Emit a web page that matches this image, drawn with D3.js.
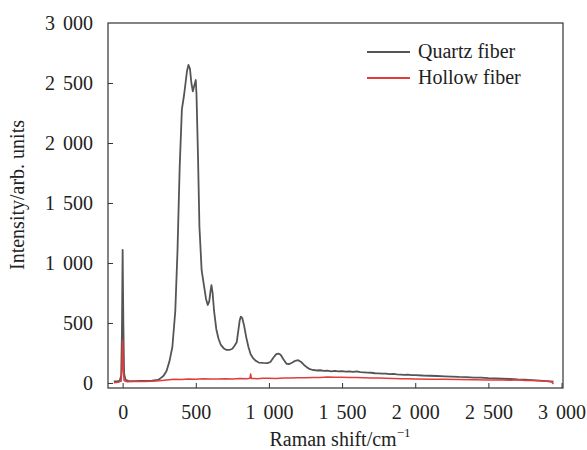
<!DOCTYPE html>
<html>
<head>
<meta charset="utf-8" />
<script src="https://d3js.org/d3.v7.min.js"></script>
<style>
  body { margin: 0; background: #fff; }
  svg text { font-family: "Liberation Serif", "Times New Roman", serif; }
</style>
</head>
<body>
<svg id="chart" width="587" height="450"></svg>
<script>
// Raman spectra
const quartzX = [-60, -40, -20, -10, -5, 0, 5, 10, 20, 40, 80, 120, 160, 200, 240, 260, 280, 300, 320, 340,
  360, 375, 390, 405, 420, 430, 440, 450, 460, 470, 480, 490, 500, 505, 515, 525, 540, 555, 570, 582,
  592, 600, 607, 615, 625, 640, 655, 670, 690, 710, 730, 750, 765, 780, 790, 800, 808, 818, 830, 845,
  860, 875, 890, 910, 930, 960, 990, 1010, 1030, 1050, 1065, 1080, 1100, 1120, 1140, 1160, 1180, 1200, 1220, 1240,
  1260, 1280, 1300, 1325, 1350, 1375, 1400, 1425, 1450, 1475, 1500, 1525, 1550, 1575, 1600, 1625, 1650, 1675, 1700, 1725,
  1750, 1775, 1800, 1825, 1850, 1875, 1900, 1925, 1950, 1975, 2000, 2050, 2100, 2150, 2200, 2250, 2300, 2350, 2400, 2450,
  2500, 2550, 2600, 2650, 2700, 2750, 2800, 2850, 2900, 2945]
const quartzY = [12, 14, 18, 60, 400, 1108, 500, 80, 25, 18, 15, 18, 17, 20, 25, 40, 60, 100, 180, 300,
  600, 1100, 1800, 2280, 2400, 2500, 2600, 2650, 2620, 2500, 2430, 2480, 2525, 2400, 1900, 1300, 940, 820, 700, 650,
  680, 760, 815, 750, 600, 450, 370, 320, 290, 275, 275, 285, 310, 340, 430, 520, 553, 540, 480, 380,
  300, 240, 210, 185, 170, 167, 165, 175, 210, 240, 245, 235, 195, 160, 158, 170, 185, 190, 175, 150,
  130, 115, 108, 104, 106, 101, 103, 97, 100, 96, 99, 95, 97, 92, 96, 90, 88, 86, 85, 81,
  80, 78, 77, 73, 75, 71, 70, 68, 69, 65, 66, 62, 60, 58, 55, 53, 50, 49, 45, 44,
  40, 38, 35, 33, 29, 27, 23, 20, 16, 11]

const hollowX = [-60, -30, -10, -5, 0, 5, 10, 30, 80, 150, 200, 250, 300, 350, 400, 450, 500, 550, 600, 650,
  700, 750, 800, 850, 870, 875, 880, 920, 960, 1000, 1050, 1100, 1150, 1200, 1250, 1300, 1350, 1400, 1450, 1500,
  1550, 1600, 1650, 1700, 1750, 1800, 1850, 1900, 1950, 2000, 2100, 2200, 2300, 2400, 2500, 2600, 2650, 2700, 2750, 2800,
  2850, 2900, 2930, 2945]
const hollowY = [2, 5, 15, 120, 358, 100, 20, 10, 12, 13, 15, 18, 25, 30, 28, 32, 30, 35, 32, 34,
  36, 33, 38, 36, 40, 75, 38, 36, 39, 40, 38, 42, 41, 44, 43, 46, 45, 50, 47, 48,
  46, 45, 43, 42, 41, 40, 38, 36, 35, 34, 31, 30, 28, 26, 25, 24, 22, 26, 21, 20,
  19, 15, 10, -8]

const seriesNames = ['Quartz fiber', 'Hollow fiber']
const seriesColors = ['#555555', '#e03c3c']
const xTicks = [0, 500, 1000, 1500, 2000, 2500, 3000]
const yTicks = [0, 500, 1000, 1500, 2000, 2500, 3000]

const mLeft = 108, mTop = 23, mRight = 563, mBottom = 388
const svg = d3.select('#chart')

const x = d3.scaleLinear().domain([-100, 3010]).range([mLeft, mRight])
const y = d3.scaleLinear().domain([-42, 3000]).range([mBottom, mTop])

// thousands with a space, like the paper
const fmt = (d) => d3.format(',')(d).replace(',', '\u2009\u2009')

const xAxis = svg.append('g')
  .attr('transform', `translate(0,${mBottom})`)
  .call(d3.axisBottom(x).tickValues(xTicks).tickSize(-5).tickPadding(17).tickFormat(fmt))
const yAxis = svg.append('g')
  .attr('transform', `translate(${mLeft},0)`)
  .call(d3.axisLeft(y).tickValues(yTicks).tickSize(-5).tickPadding(15).tickFormat(fmt))

for (const ax of [xAxis, yAxis]) {
  ax.attr('font-family', 'Liberation Serif')
  ax.select('.domain').remove()
  ax.selectAll('line').attr('stroke', '#333')
  ax.selectAll('text').attr('font-size', 20).attr('fill', '#222')
}
yAxis.selectAll('.tick').filter((d) => d === 3000).select('line').remove()

svg.append('rect')
  .attr('x', mLeft).attr('y', mTop)
  .attr('width', mRight - mLeft).attr('height', mBottom - mTop)
  .attr('fill', 'none').attr('stroke', '#333').attr('stroke-width', 1.2)

const line = d3.line().x((d) => x(d[0])).y((d) => y(d[1]))
const series = [d3.zip(quartzX, quartzY), d3.zip(hollowX, hollowY)]

svg.selectAll('path.series')
  .data(series)
  .enter()
  .append('path')
  .attr('class', 'series')
  .attr('d', line)
  .attr('fill', 'none')
  .attr('stroke', (d, i) => seriesColors[i])
  .attr('stroke-width', (d, i) => (i === 0 ? 1.8 : 1.5))
  .attr('stroke-linejoin', 'round')

// legend
const legend = svg.append('g')
seriesNames.forEach((name, i) => {
  const ly = 52 + i * 26
  legend.append('line')
    .attr('x1', 367).attr('x2', 410).attr('y1', ly).attr('y2', ly)
    .attr('stroke', seriesColors[i]).attr('stroke-width', 1.8)
  legend.append('text')
    .attr('x', 418).attr('y', ly + 6)
    .attr('font-size', 20).attr('fill', '#222')
    .text(name)
})

// axis titles
svg.append('text')
  .attr('transform', 'translate(24,195) rotate(-90)')
  .attr('text-anchor', 'middle')
  .attr('font-size', 20).attr('fill', '#222')
  .text('Intensity/arb. units')

const xt = svg.append('text')
  .attr('x', 340).attr('y', 446)
  .attr('text-anchor', 'middle')
  .attr('font-size', 20).attr('fill', '#222')
xt.append('tspan').text('Raman shift/cm')
xt.append('tspan').attr('dy', -9).attr('font-size', 13).text('\u22121')
</script>
</body>
</html>
